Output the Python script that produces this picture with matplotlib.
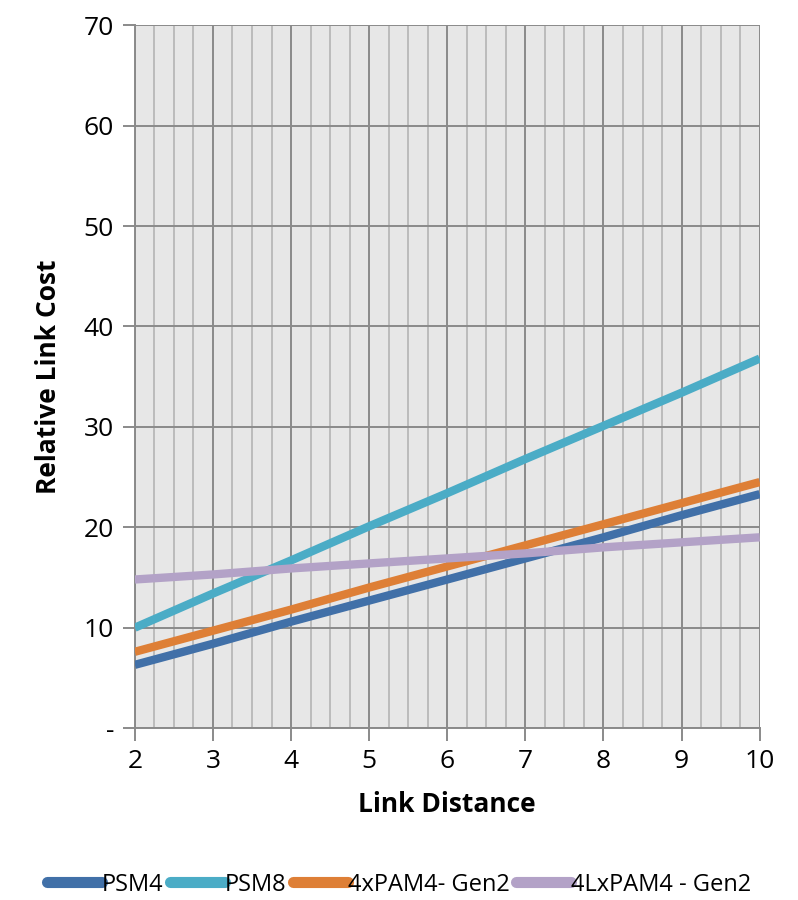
import matplotlib
matplotlib.use("Agg")
import matplotlib.pyplot as plt
from matplotlib.ticker import MultipleLocator

plt.rcParams["font.family"] = ["Open Sans", "DejaVu Sans"]

distance = [2, 3, 4, 5, 6, 7, 8, 9, 10]
psm4 = [6.3, 8.4, 10.6, 12.7, 14.8, 16.9, 19.0, 21.2, 23.3]
psm8 = [10.0, 13.4, 16.7, 20.1, 23.4, 26.8, 30.1, 33.4, 36.8]
pam4_gen2 = [7.6, 9.7, 11.8, 14.0, 16.1, 18.2, 20.3, 22.4, 24.5]
lpam4_gen2 = [14.8, 15.3, 15.9, 16.4, 16.9, 17.4, 18.0, 18.5, 19.0]

series = [
    ("PSM4", psm4, "#4170a8"),
    ("PSM8", psm8, "#4bacc6"),
    ("4xPAM4- Gen2", pam4_gen2, "#de7f36"),
    ("4LxPAM4 - Gen2", lpam4_gen2, "#b3a2c7"),
]

y_ticks = [0, 10, 20, 30, 40, 50, 60, 70]
y_tick_labels = ["-", "10", "20", "30", "40", "50", "60", "70"]

fig = plt.figure(figsize=(7.98, 9.0), dpi=100)
ax = fig.add_axes([0.169, 0.191, 0.783, 0.781])
ax.set_facecolor("#e7e7e7")

for name, values, color in series:
    ax.plot(distance, values, color=color, linewidth=6, label=name,
            solid_capstyle="butt", zorder=3)

ax.set_xlim(2, 10)
ax.set_ylim(0, 70)
ax.xaxis.set_major_locator(MultipleLocator(1))
ax.xaxis.set_minor_locator(MultipleLocator(0.25))
ax.set_yticks(y_ticks)
ax.set_yticklabels(y_tick_labels)

ax.grid(which="major", color="#8a8a8a", linewidth=1.4, zorder=1)
ax.grid(which="minor", axis="x", color="#b8b8b8", linewidth=1.3, zorder=1)
ax.set_axisbelow(True)

for side in ["top", "right"]:
    ax.spines[side].set_visible(False)
for side in ["left", "bottom"]:
    ax.spines[side].set_color("#8a8a8a")
    ax.spines[side].set_linewidth(1.4)

ax.tick_params(axis="both", which="major", direction="out", length=9, width=1.4,
               color="#8a8a8a", labelsize=19, pad=6)
ax.tick_params(axis="x", which="minor", length=0)

ax.set_xlabel("Link Distance", fontsize=19, fontweight="bold", labelpad=12)
ax.set_ylabel("Relative Link Cost", fontsize=19, fontweight="bold", labelpad=16)

leg = fig.legend(loc="center", bbox_to_anchor=(0.5, 0.017), ncol=4, frameon=False,
                 fontsize=17, handlelength=2.3, handletextpad=0.0, columnspacing=0.3)
for line in leg.get_lines():
    line.set_linewidth(8)
    line.set_solid_capstyle("round")

fig.savefig("out.png", dpi=100)
